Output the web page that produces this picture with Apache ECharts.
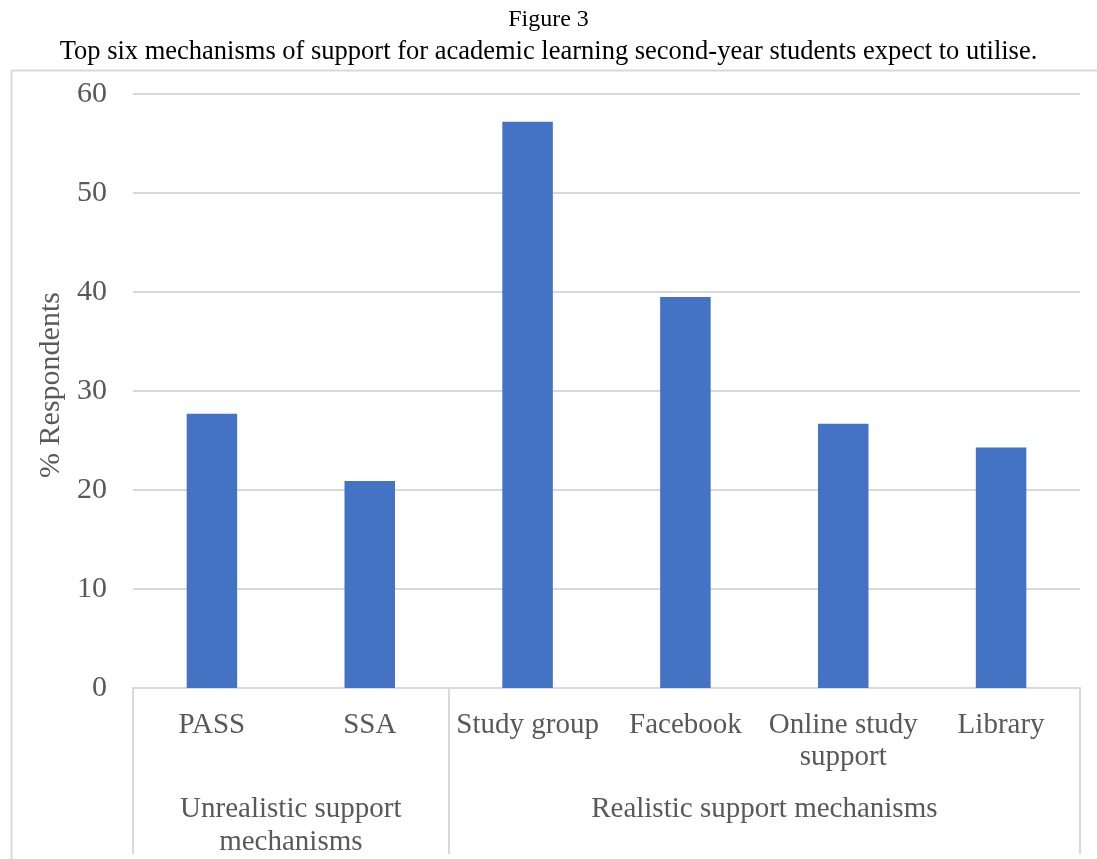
<!DOCTYPE html>
<html>
<head>
<meta charset="utf-8">
<script src="https://cdn.jsdelivr.net/npm/echarts@6/dist/echarts.min.js"></script>
<style>
  html, body { margin: 0; padding: 0; background: #fff; }
  #chart { width: 1097px; height: 859px; }
</style>
</head>
<body>
<div id="chart"></div>
<script>
const categories = ["PASS", "SSA", "Study group", "Facebook", "Online study\nsupport", "Library"];
const respondents = [27.7, 20.9, 57.2, 39.5, 26.7, 24.3];
const groupNames = ["Unrealistic support\nmechanisms", "Realistic support mechanisms"];
const groupSizes = [2, 4];
const yTicks = [0, 10, 20, 30, 40, 50, 60];

const FONT = "'Liberation Serif', 'Times New Roman', serif";
const GREY = "#595959";

// group boundaries and centres on a 0..n value scale
const bounds = [0];
groupSizes.forEach((n) => bounds.push(bounds[bounds.length - 1] + n));
const centres = groupSizes.map((n, i) => bounds[i] + n / 2);

const chart = echarts.init(document.getElementById("chart"));

chart.setOption({
  animation: false,
  title: [
    { text: "Figure 3", left: "center", top: 3, textStyle: { fontFamily: FONT, fontSize: 24, fontWeight: "normal", color: "#000" } },
    {
      text: "Top six mechanisms of support for academic learning second-year students expect to utilise.",
      left: "center",
      top: 34,
      textStyle: { fontFamily: FONT, fontSize: 26.5, fontWeight: "normal", color: "#000" },
    },
  ],
  graphic: [
    {
      type: "rect",
      left: 9,
      top: 68,
      shape: { width: 1110, height: 820 },
      style: { fill: "none", stroke: "#d9d9d9", lineWidth: 2 },
      z: -1,
    },
  ],
  grid: { left: 133, right: 17, top: 94, bottom: 171 },
  xAxis: [
    {
      type: "category",
      data: categories,
      axisLine: { lineStyle: { color: "#d9d9d9", width: 2 } },
      axisTick: { show: false },
      axisLabel: { fontFamily: FONT, fontSize: 29, color: GREY, margin: 21, lineHeight: 32, interval: 0 },
    },
    {
      type: "value",
      min: 0,
      max: categories.length,
      position: "bottom",
      axisLine: { show: false },
      splitLine: { show: false },
      axisTick: { show: true, customValues: bounds, length: 166, lineStyle: { color: "#d9d9d9", width: 2 } },
      axisLabel: {
        customValues: centres,
        formatter: (v) => groupNames[centres.indexOf(v)],
        fontFamily: FONT,
        fontSize: 29,
        color: GREY,
        lineHeight: 33,
        margin: 105,
        verticalAlign: "top",
      },
    },
  ],
  yAxis: {
    type: "value",
    min: 0,
    max: 60,
    interval: 10,
    name: "% Respondents",
    nameLocation: "middle",
    nameGap: 58,
    nameTextStyle: { fontFamily: FONT, fontSize: 30, color: GREY, padding: [0, 0, 0, 12] },
    axisLine: { show: false },
    axisTick: { show: false },
    axisLabel: { fontFamily: FONT, fontSize: 30, color: GREY, margin: 26, customValues: yTicks },
    splitLine: { lineStyle: { color: "#d9d9d9", width: 2 } },
  },
  series: [
    {
      type: "bar",
      data: respondents,
      barWidth: "32%",
      itemStyle: { color: "#4472c4" },
    },
  ],
});
</script>
</body>
</html>
